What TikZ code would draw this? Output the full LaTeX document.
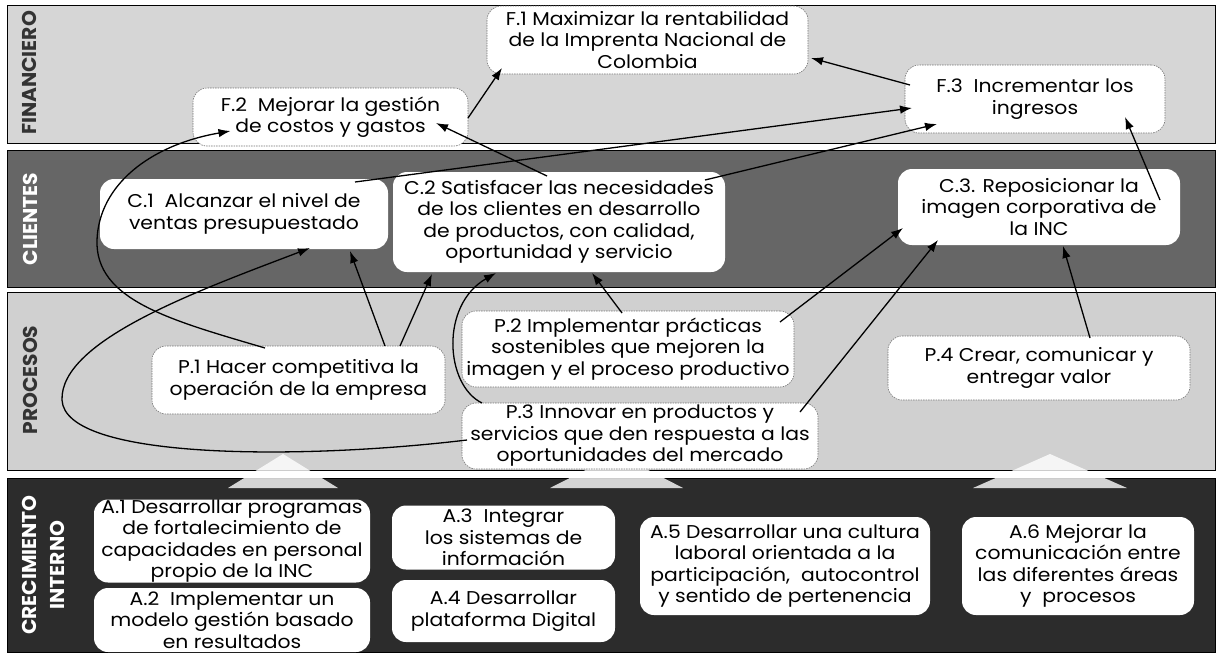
\documentclass[tikz,border=0pt]{standalone}
\usepackage{fontspec}
\setmainfont[FakeStretch=1.1]{Poppins}
\usetikzlibrary{calc,arrows.meta}
\definecolor{finbg}{HTML}{D6D6D6}
\definecolor{clibg}{HTML}{666666}
\definecolor{probg}{HTML}{D0D0D0}
\definecolor{crebg}{HTML}{2C2C2C}
\begin{document}
\begin{tikzpicture}[x=1pt,y=-1pt,
  band/.style={draw=black, line width=0.8pt},
  box/.style={rounded corners=14pt, fill=white, align=center, inner sep=0pt,
    font=\fontsize{18.5}{21.5}\selectfont},
  boxL/.style={box, draw=black!55, dash pattern=on 1.5pt off 1pt, line width=0.6pt},
  boxD/.style={box, draw=none},
  conn/.style={line width=1.3pt, -{Latex[length=12pt,width=8.5pt]}},
  lab/.style={font=\fontsize{20}{20}\selectfont\bfseries, rotate=90, xscale=0.92, inner sep=0pt},
  wedge/.style={fill=white, opacity=0.8, draw=none}
]
\useasboundingbox (0,0) rectangle (1220,657);
\fill[white] (0,0) rectangle (1220,657);

% bands
\draw[band, fill=finbg] (7,5) rectangle (1215,143);
\draw[band, fill=clibg] (7,150) rectangle (1215,287);
\draw[band, fill=probg] (7,292) rectangle (1215,470);
\draw[band, fill=crebg] (7,478) rectangle (1215,652);

% wedges
\fill[wedge] (228,488) -- (283,454) -- (338,488) -- cycle;
\fill[wedge] (550,488) -- (617,454) -- (683,488) -- cycle;
\fill[wedge] (973,488) -- (1050,454) -- (1127,488) -- cycle;

% band labels
\node[lab, text=black!80] (lfin) at (29,73) {FINANCIERO};
\node[lab, text=white] (lcli) at (30,219) {CLIENTES};
\node[lab, text=black!80] (lpro) at (30,380) {PROCESOS};
\node[lab, text=white] (lcre) at (29,565) {CRECIMIENTO};
\node[lab, text=white] (lint) at (57,565) {INTERNO};

% financiero
\node[boxL, minimum width=321pt, minimum height=68pt] (F1) at (647.5,40)
  {F.1 Maximizar la rentabilidad\\de la Imprenta Nacional de\\Colombia};
\node[boxL, minimum width=275pt, minimum height=58pt] (F2) at (330.5,117)
  {F.2\ \ Mejorar la gestión\\de costos y gastos};
\node[boxL, minimum width=260pt, minimum height=68pt] (F3) at (1035,99)
  {F.3\ \ Incrementar los\\ingresos};

% clientes
\node[boxD, minimum width=288pt, minimum height=70pt] (C1) at (244,214)
  {C.1\ \ Alcanzar el nivel de\\ventas presupuestado};
\node[boxD, minimum width=332pt, minimum height=100pt] (C2) at (559,222)
  {C.2 Satisfacer las necesidades\\de los clientes en desarrollo\\de productos, con calidad,\\oportunidad y servicio};
\node[boxD, minimum width=282pt, minimum height=76pt] (C3) at (1039,207)
  {C.3. Reposicionar la\\imagen corporativa de\\la INC};

% procesos
\node[boxL, minimum width=293pt, minimum height=68pt] (P1) at (298.5,380)
  {P.1 Hacer competitiva la\\operación de la empresa};
\node[boxL, minimum width=332pt, minimum height=76pt] (P2) at (628,349)
  {P.2 Implementar prácticas\\sostenibles que mejoren la\\imagen y el proceso productivo};
\node[boxL, minimum width=356pt, minimum height=66pt] (P3) at (640,436)
  {P.3 Innovar en productos y\\servicios que den respuesta a las\\oportunidades del mercado};
\node[boxL, minimum width=302pt, minimum height=64pt] (P4) at (1039,368)
  {P.4 Crear, comunicar y\\entregar valor};

% crecimiento interno
\node[boxD, minimum width=276pt, minimum height=82pt] (A1) at (232,541)
  {A.1 Desarrollar programas\\de fortalecimiento de\\capacidades en personal\\propio de la INC};
\node[boxD, minimum width=276pt, minimum height=64pt] (A2) at (232,620)
  {A.2\ \ Implementar un\\modelo gestión basado\\en resultados};
\node[boxD, minimum width=223pt, minimum height=64pt] (A3) at (503.5,537.5)
  {A.3\ \ Integrar\\los sistemas de\\información};
\node[boxD, minimum width=223pt, minimum height=62pt] (A4) at (503.5,611)
  {A.4 Desarrollar\\plataforma Digital};
\node[boxD, minimum width=290pt, minimum height=98pt] (A5) at (785,566)
  {A.5 Desarrollar una cultura\\laboral orientada a la\\participación,\ \ autocontrol\\y sentido de pertenencia};
\node[boxD, minimum width=232pt, minimum height=98pt] (A6) at (1078,566)
  {A.6 Mejorar la\\comunicación entre\\las diferentes áreas\\y\ \ procesos};

% connectors
\draw[conn] ($(F2)+(137.5,1)$) -- ($(F1)+(-145.5,28)$);
\draw[conn] ($(F3)+(-125,-14)$) -- ($(F1)+(163.5,18)$);
\draw[conn] ($(C2)+(-12,-46)$) -- ($(F2)+(105.5,6)$);
\draw[conn] ($(C1)+(111,-32)$) -- ($(F3)+(-123,9)$);
\draw[conn] ($(C2)+(146,-42)$) -- ($(F3)+(-98,25)$);
\draw[conn] ($(C3)+(121,-7)$) -- ($(F3)+(90,18)$);
\draw[conn] ($(P1)+(-33.5,-32)$) .. controls (170,320) and (95,300) .. (97,240)
  .. controls (99,185) and (150,145) .. ($(F2)+(-100,14)$);
\draw[conn] ($(P3)+(-173,4)$) .. controls (300,460) and (65,460) .. (62,400)
  .. controls (60,340) and (200,290) .. ($(C1)+(66,34)$);
\draw[conn] ($(P1)+(86.5,-34)$) -- ($(C1)+(106,37)$);
\draw[conn] ($(P1)+(101.5,-34)$) -- ($(C2)+(-127,52)$);
\draw[conn] ($(P3)+(-158,-33)$) .. controls (445,385) and (440,305) .. ($(C2)+(-63,51)$);
\draw[conn] ($(P2)+(-6,-36)$) -- ($(C2)+(33,51)$);
\draw[conn] ($(P2)+(152,-27)$) -- ($(C3)+(-136,21)$);
\draw[conn] ($(P3)+(160,-24)$) -- ($(C3)+(-101,33)$);
\draw[conn] ($(P4)+(51,-30)$) -- ($(C3)+(24,39)$);
\end{tikzpicture}
\end{document}
